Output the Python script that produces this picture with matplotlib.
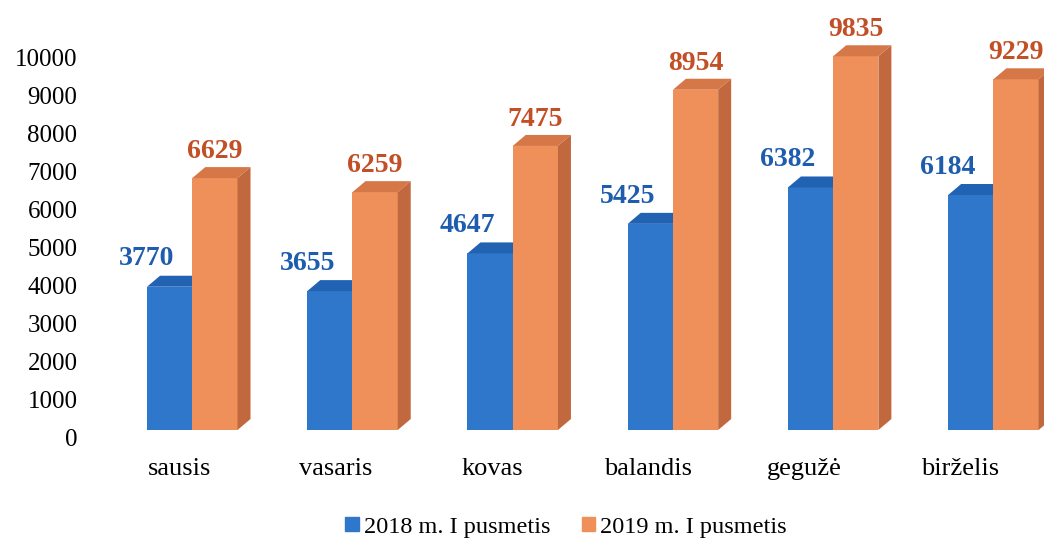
import numpy as np
import matplotlib.pyplot as plt
from matplotlib.patches import Polygon
from matplotlib.transforms import ScaledTranslation

months = ['sausis', 'vasaris', 'kovas', 'balandis', 'gegužė', 'birželis']
h2018 = [3770, 3655, 4647, 5425, 6382, 6184]
h2019 = [6629, 6259, 7475, 8954, 9835, 9229]
labels = ['2018 m. I pusmetis', '2019 m. I pusmetis']
yticks = list(range(0, 10001, 1000))

plt.rcParams['font.family'] = ['Liberation Serif', 'DejaVu Serif']

blue_front, blue_top = '#2F77CB', '#2262B3'
orng_front, orng_top, orng_side = '#EF905A', '#D57747', '#C2683F'
blue_txt, orng_txt = '#1E5DAE', '#C24F25'

fig = plt.figure(figsize=(10.44, 5.40), dpi=100)
W, H = 1044, 540
ax = fig.add_axes([90 / W, 110 / H, 954 / W, 430 / H])
ax.set_xlim(-0.577, 5.538)
ax.set_ylim(0, 430 / 0.038)

w = 0.29          # bar width in category units
dx = 13 / 156     # depth offset (x)
dy = 11 / 0.038   # depth offset (y, data units)
persp = 1.027     # bars drift right relative to the labels
shift = -0.2115

def box(x0, v, front, top, side=None):
    ax.add_patch(Polygon([(x0, 0), (x0 + w, 0), (x0 + w, v), (x0, v)],
                         closed=True, facecolor=front, edgecolor='none', zorder=3))
    ax.add_patch(Polygon([(x0, v), (x0 + w, v), (x0 + w + dx, v + dy), (x0 + dx, v + dy)],
                         closed=True, facecolor=top, edgecolor='none', zorder=3))
    if side is not None:
        ax.add_patch(Polygon([(x0 + w, 0), (x0 + w + dx, dy), (x0 + w + dx, v + dy), (x0 + w, v)],
                             closed=True, facecolor=side, edgecolor='none', zorder=3))

for i in range(len(months)):
    bl = shift + persp * i
    box(bl, h2018[i], blue_front, blue_top)
    box(bl + w, h2019[i], orng_front, orng_top, orng_side)
    ax.annotate(str(h2018[i]), (bl, h2018[i]), xytext=(0, 11), textcoords='offset points',
                ha='center', va='bottom', fontsize=20, fontweight='bold', color=blue_txt)
    ax.annotate(str(h2019[i]), (bl + w + w / 2, h2019[i]), xytext=(0, 10), textcoords='offset points',
                ha='center', va='bottom', fontsize=20, fontweight='bold', color=orng_txt)

ax.set_yticks(yticks)
ax.set_yticklabels([str(t) for t in yticks], fontsize=18)
ax.set_xticks(range(len(months)))
ax.set_xticklabels(months, fontsize=19)
ax.tick_params(axis='y', length=0, pad=9)
ax.tick_params(axis='x', length=0, pad=20)
off = ScaledTranslation(0, -8 / 100, fig.dpi_scale_trans)
for t in ax.get_yticklabels():
    t.set_transform(t.get_transform() + off)
for s in ax.spines.values():
    s.set_visible(False)

handles = [plt.Rectangle((0, 0), 1, 1, color=blue_front),
           plt.Rectangle((0, 0), 1, 1, color=orng_front)]
fig.legend(handles, labels, loc='center', bbox_to_anchor=(566 / W, 1 - 527 / H), ncol=2,
           frameon=False, fontsize=17.5, handlelength=0.55, handleheight=0.55,
           handletextpad=0.2, columnspacing=1.3)

fig.savefig('out.png', dpi=100, facecolor='white')
